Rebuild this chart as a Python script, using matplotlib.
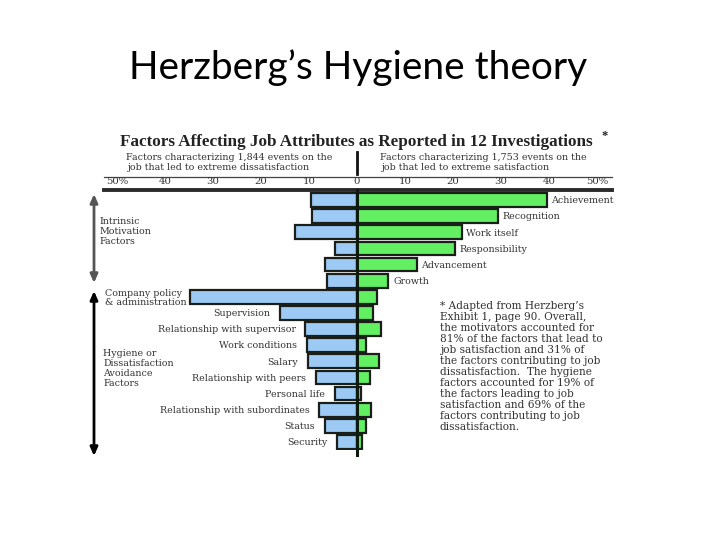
import matplotlib
matplotlib.use("Agg")
import matplotlib.pyplot as plt
import numpy as np

# ---------------- data ----------------
motivators = ["Achievement", "Recognition", "Work itself", "Responsibility",
              "Advancement", "Growth"]
mot_dissat = [9.6, 9.3, 12.9, 4.6, 6.7, 6.2]
mot_sat = [39.5, 29.4, 21.8, 20.4, 12.4, 6.5]

hygiene = ["Company policy\n& administration", "Supervision",
           "Relationship with supervisor", "Work conditions", "Salary",
           "Relationship with peers", "Personal life",
           "Relationship with subordinates", "Status", "Security"]
hyg_dissat = [34.7, 16.0, 10.8, 10.5, 10.3, 8.6, 4.6, 7.9, 6.7, 4.1]
hyg_sat = [4.1, 3.3, 5.1, 1.9, 4.6, 2.8, 0.9, 3.0, 1.8, 1.1]

tick_vals = [-50, -40, -30, -20, -10, 0, 10, 20, 30, 40, 50]
tick_labels = ["50%", "40", "30", "20", "10", "0", "10", "20", "30", "40", "50%"]

title = "Herzberg\u2019s Hygiene theory"
chart_title = "Factors Affecting Job Attributes as Reported in 12 Investigations"
left_sub = ["Factors characterizing 1,844 events on the",
            "job that led to extreme dissatisfaction"]
right_sub = ["Factors characterizing 1,753 events on the",
             "job that led to extreme satisfaction"]
intrinsic_lbl = ["Intrinsic", "Motivation", "Factors"]
hygiene_lbl = ["Hygiene or", "Dissatisfaction", "Avoidance", "Factors"]
footnote = ("* Adapted from Herzberg\u2019s\nExhibit 1, page 90. Overall,\n"
            "the motivators accounted for\n81% of the factors that lead to\n"
            "job satisfaction and 31% of\nthe factors contributing to job\n"
            "dissatisfaction.  The hygiene\nfactors accounted for 19% of\n"
            "the factors leading to job\nsatisfaction and 69% of the\n"
            "factors contributing to job\ndissatisfaction.")

# ---------------- styling ----------------
W, H = 720, 540
BLUE = "#9ccaf5"
GREEN = "#62f062"
EDGE = "#1a1f1a"
SERIF = "DejaVu Serif"
TXT = "#333333"
FS = 6.8

fig = plt.figure(figsize=(7.2, 5.4), dpi=100)
fig.patch.set_facecolor("white")

bg = fig.add_axes([0, 0, 1, 1])
bg.set_xlim(0, W)
bg.set_ylim(H, 0)
bg.axis("off")

# bar axes: x -50..50 -> pixels 117..597 ; rows -0.5..15.5 -> pixels 192..450
x0p, x1p = 117, 597
ytp, ybp = 192, 450
ax = fig.add_axes([x0p / W, 1 - ybp / H, (x1p - x0p) / W, (ybp - ytp) / H])
ax.patch.set_alpha(0)

n_m = len(motivators)
n_h = len(hygiene)
rows_m = np.arange(n_m)
rows_h = np.arange(n_h) + n_m
bh = 0.86

ax.barh(rows_m, -np.array(mot_dissat), height=bh, color=BLUE, edgecolor=EDGE, lw=1.6)
ax.barh(rows_m, mot_sat, height=bh, color=GREEN, edgecolor=EDGE, lw=1.6)
ax.barh(rows_h, -np.array(hyg_dissat), height=bh, color=BLUE, edgecolor=EDGE, lw=1.6)
ax.barh(rows_h, hyg_sat, height=bh, color=GREEN, edgecolor=EDGE, lw=1.6)

ax.plot([0, 0], [-0.6, n_m + n_h - 0.5 + 0.3], color="#0d1a0d", lw=2.2,
        clip_on=False, zorder=5)

ax.set_xlim(-50, 50)
ax.set_ylim(n_m + n_h - 0.5, -0.5)
for s in ax.spines.values():
    s.set_visible(False)
ax.set_yticks([])
ax.set_xticks(tick_vals)
ax.set_xticklabels(tick_labels, family=SERIF, fontsize=7.3, color=TXT)
ax.tick_params(axis="x", top=True, labeltop=True, bottom=False,
               labelbottom=False, length=0, pad=4.0)

for i, (name, v) in enumerate(zip(motivators, mot_sat)):
    ax.text(v + 1.0, rows_m[i] + 0.05, name, ha="left", va="center",
            family=SERIF, fontsize=FS, color=TXT)
for i, (name, v) in enumerate(zip(hygiene, hyg_dissat)):
    if i == 0:
        bg.text(105, 298, name, ha="left", va="center", family=SERIF,
                fontsize=FS, color=TXT, linespacing=0.95)
    else:
        ax.text(-v - 2.0, rows_h[i] + 0.05, name, ha="right", va="center",
                family=SERIF, fontsize=FS, color=TXT)

# ---------------- header ----------------
bg.text(358.5, 79, title, ha="center", va="baseline", family="Lato",
        fontsize=28, color="black")
bg.text(120, 146, chart_title, ha="left", va="baseline",
        family="Liberation Serif", fontsize=12.3, weight="bold", color="#222222")
bg.text(601, 139, "*", ha="left", va="baseline", family="Liberation Serif",
        fontsize=9, weight="bold", color="#222222")
bg.text(126, 158, left_sub[0], ha="left", va="center", family=SERIF,
        fontsize=FS, color=TXT)
bg.text(128, 168, left_sub[1], ha="left", va="center", family=SERIF,
        fontsize=FS, color=TXT)
bg.text(380, 157, right_sub[0], ha="left", va="center", family=SERIF,
        fontsize=FS, color=TXT)
bg.text(382, 167, right_sub[1], ha="left", va="center", family=SERIF,
        fontsize=FS, color=TXT)
bg.plot([357, 357], [152, 174], color="#111111", lw=2)
bg.plot([104, 612], [177, 177], color="#444444", lw=0.9)
bg.plot([104, 612], [190, 190], color="#2a2a2a", lw=2.8)

# ---------------- side annotations ----------------
bg.annotate("", xy=(94, 194), xytext=(94, 283),
            arrowprops=dict(arrowstyle="<|-|>,head_length=0.5,head_width=0.22",
                            color="#555555", lw=2, shrinkA=0, shrinkB=0))
for k, t in enumerate(intrinsic_lbl):
    bg.text(100, 222 + 10 * k, t, ha="left", va="center", family=SERIF,
            fontsize=FS, color=TXT)

bg.annotate("", xy=(94, 291), xytext=(94, 456),
            arrowprops=dict(arrowstyle="<|-|>,head_length=0.5,head_width=0.22",
                            color="#000000", lw=2, shrinkA=0, shrinkB=0))
for k, t in enumerate(hygiene_lbl):
    bg.text(103, 353 + 10 * k, t, ha="left", va="center", family=SERIF,
            fontsize=FS, color=TXT)

bg.text(440, 301, footnote, ha="left", va="top", family=SERIF,
        fontsize=7.6, color=TXT, linespacing=1.12)

fig.savefig("out.png", dpi=100, facecolor="white")
